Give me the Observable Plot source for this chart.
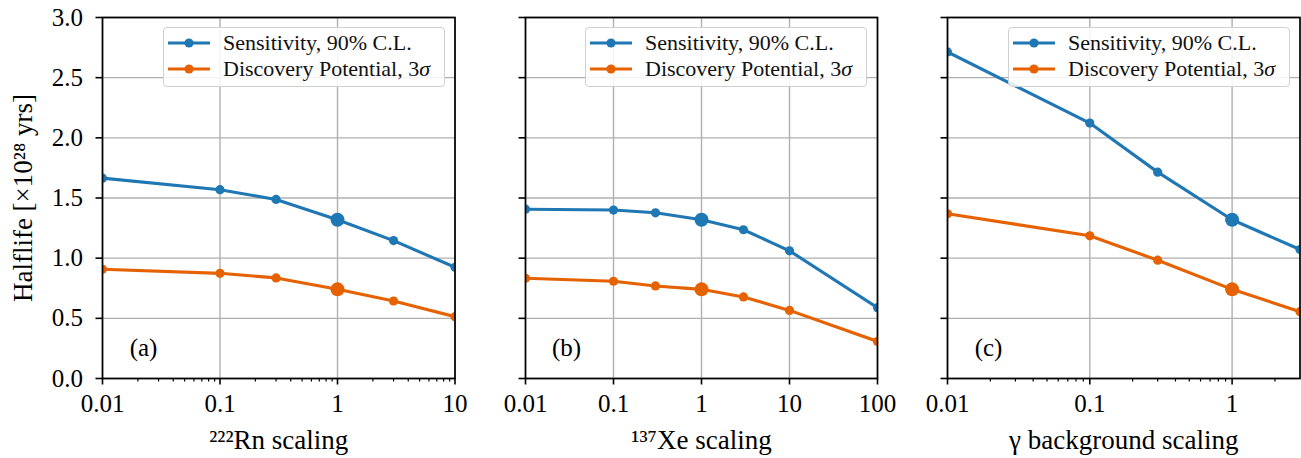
<!DOCTYPE html>
<html>
<head>
<meta charset="utf-8">
<script src="https://cdn.jsdelivr.net/npm/d3@7"></script>
<script src="https://cdn.jsdelivr.net/npm/@observablehq/plot@0.6"></script>
<style>
  body { margin: 0; background: #fff; }
  #chart { position: relative; width: 1301px; height: 458px; background: #fff; font-family: "Liberation Serif", serif; overflow: hidden; }
  #chart svg.panel { position: absolute; top: 0; overflow: visible; }
  #chart text, #chart tspan { font-family: "Liberation Serif", serif; }
  .legend { position: absolute; box-sizing: border-box; border: 1.3px solid #d0d0d0; border-radius: 4px; background: rgba(255,255,255,0.85); }
  .legend svg { display: block; overflow: visible; }
</style>
</head>
<body>
<div id="chart"></div>
<script>
// ---------------- data ----------------
const seriesNames = ["Sensitivity, 90% C.L.", "Discovery Potential, 3σ"];
const seriesColors = ["#1f77b4", "#e66100"];

const rnScaling = [0.01, 0.1, 0.3, 1, 3, 10];
const rnSensitivity = [1.665, 1.569, 1.488, 1.319, 1.146, 0.924];
const rnDiscovery = [0.908, 0.874, 0.836, 0.741, 0.644, 0.514];

const xeScaling = [0.01, 0.1, 0.3, 1, 3, 10, 100];
const xeSensitivity = [1.407, 1.400, 1.377, 1.319, 1.236, 1.061, 0.589];
const xeDiscovery = [0.833, 0.808, 0.769, 0.741, 0.678, 0.566, 0.308];

const gammaScaling = [0.01, 0.1, 0.3, 1, 3];
const gammaSensitivity = [2.714, 2.123, 1.715, 1.319, 1.072];
const gammaDiscovery = [1.369, 1.186, 0.983, 0.741, 0.555];

const yTicks = [0, 0.5, 1.0, 1.5, 2.0, 2.5, 3.0];
const rnTicks = [0.01, 0.1, 1, 10];
const xeTicks = [0.01, 0.1, 1, 10, 100];
const gammaTicks = [0.01, 0.1, 1];

const panelLetters = ["(a)", "(b)", "(c)"];
const xLabels = ["²²²Rn scaling", "¹³⁷Xe scaling", "γ background scaling"];
const yLabel = "Halflife [×10²⁸ yrs]";
const referenceScaling = 1; // nominal point drawn with a larger marker

// ---------------- layout ----------------
const panels = [
  { x: rnScaling, sens: rnSensitivity, disc: rnDiscovery, domain: [0.01, 10], ticks: rnTicks, minor: true,
    left: 0, width: 470, marginLeft: 102, marginRight: 15.5, showY: true },
  { x: xeScaling, sens: xeSensitivity, disc: xeDiscovery, domain: [0.01, 100], ticks: xeTicks, minor: false,
    left: 470, width: 420, marginLeft: 55, marginRight: 13, showY: false },
  { x: gammaScaling, sens: gammaSensitivity, disc: gammaDiscovery, domain: [0.01, 3], ticks: gammaTicks, minor: true,
    left: 890, width: 411, marginLeft: 57, marginRight: 1.5, showY: false }
];

function minorTicks([lo, hi]) {
  const out = [];
  for (let e = Math.floor(Math.log10(lo)); e <= Math.ceil(Math.log10(hi)); e++) {
    for (let k = 2; k <= 9; k++) {
      const v = k * Math.pow(10, e);
      if (v > lo * 1.0001 && v < hi * 0.9999) out.push(v);
    }
  }
  return out;
}

const chart = document.getElementById("chart");
const gridStyle = { stroke: "#b0b0b0", strokeOpacity: 1, strokeWidth: 1.4 };
const FONT = "Liberation Serif";

panels.forEach((p, i) => {
  const rows = [];
  p.x.forEach((x, j) => rows.push({ x, y: p.sens[j], s: seriesNames[0] }));
  p.x.forEach((x, j) => rows.push({ x, y: p.disc[j], s: seriesNames[1] }));

  const svg = Plot.plot({
    width: p.width,
    height: 458,
    marginLeft: p.marginLeft,
    marginRight: p.marginRight,
    marginTop: 17,
    marginBottom: 80,
    style: { fontFamily: FONT, fontSize: "25px", background: "transparent", overflow: "visible", color: "black" },
    x: { type: "log", domain: p.domain, label: null },
    y: { domain: [0, 3], label: null },
    r: { type: "identity" },
    color: { domain: seriesNames, range: seriesColors },
    marks: [
      Plot.gridX(p.ticks, gridStyle),
      Plot.gridY(yTicks, gridStyle),
      Plot.line(rows, { x: "x", y: "y", z: "s", stroke: "s", strokeWidth: 3.1, clip: "frame" }),
      Plot.dot(rows, { x: "x", y: "y", fill: "s", r: d => d.x === referenceScaling ? 7 : 4.6, clip: "frame" }),
      p.minor ? Plot.axisX(minorTicks(p.domain), { tickSize: 3.5, strokeWidth: 1.2, tickFormat: () => "", label: null }) : null,
      Plot.axisX(p.ticks, {
        tickSize: 6.5, strokeWidth: 1.6, tickPadding: 9, tickFormat: d => String(d),
        fontFamily: FONT, fontSize: 25, label: null
      }),
      // axis title (slightly larger type, as in the reference)
      Plot.axisX(p.ticks, {
        tickSize: 0, tickFormat: () => "", fontFamily: FONT, fontSize: 27,
        label: xLabels[i], labelAnchor: "center", labelArrow: "none", labelOffset: 70
      }),
      Plot.axisY(yTicks, {
        tickSize: 6.5, strokeWidth: 1.6, tickPadding: 13,
        fontFamily: FONT, fontSize: 25,
        tickFormat: p.showY ? d => d.toFixed(1) : () => "",
        label: null
      }),
      p.showY ? Plot.axisY(yTicks, {
        tickSize: 0, tickFormat: () => "", fontFamily: FONT, fontSize: 27,
        label: yLabel, labelAnchor: "center", labelArrow: "none", labelOffset: 90
      }) : null,
      Plot.frame({ stroke: "black", strokeWidth: 1.7 }),
      Plot.text([panelLetters[i]], {
        frameAnchor: "bottom-left", textAnchor: "middle", lineAnchor: "middle",
        dx: 41, dy: -31, fontSize: 25, fontFamily: FONT
      })
    ]
  });
  svg.classList.add("panel");
  svg.style.left = p.left + "px";
  chart.appendChild(svg);

  // legend (top-right inside the frame)
  const frameRight = p.left + p.width - p.marginRight;
  const legW = 282, legH = 60;
  const leg = document.createElement("div");
  leg.className = "legend";
  leg.style.left = (frameRight - 10 - legW) + "px";
  leg.style.top = (17 + 10) + "px";
  leg.style.width = legW + "px";
  leg.style.height = legH + "px";
  const ns = "http://www.w3.org/2000/svg";
  const ls = document.createElementNS(ns, "svg");
  ls.setAttribute("width", legW - 2);
  ls.setAttribute("height", legH - 2);
  seriesNames.forEach((name, k) => {
    const cy = 15 + k * 26;
    const line = document.createElementNS(ns, "line");
    line.setAttribute("x1", 4); line.setAttribute("x2", 46);
    line.setAttribute("y1", cy); line.setAttribute("y2", cy);
    line.setAttribute("stroke", seriesColors[k]); line.setAttribute("stroke-width", 3.1);
    ls.appendChild(line);
    const c = document.createElementNS(ns, "circle");
    c.setAttribute("cx", 25); c.setAttribute("cy", cy); c.setAttribute("r", 4.6);
    c.setAttribute("fill", seriesColors[k]);
    ls.appendChild(c);
    const t = document.createElementNS(ns, "text");
    t.setAttribute("x", 59); t.setAttribute("y", cy + 7);
    t.setAttribute("font-size", "22px");
    t.setAttribute("fill", "#111");
    if (name.endsWith("σ")) {
      t.appendChild(document.createTextNode(name.slice(0, -1)));
      const ts = document.createElementNS(ns, "tspan");
      ts.setAttribute("font-style", "italic");
      ts.textContent = "σ";
      t.appendChild(ts);
    } else {
      t.textContent = name;
    }
    ls.appendChild(t);
  });
  leg.appendChild(ls);
  chart.appendChild(leg);
});
</script>
</body>
</html>
